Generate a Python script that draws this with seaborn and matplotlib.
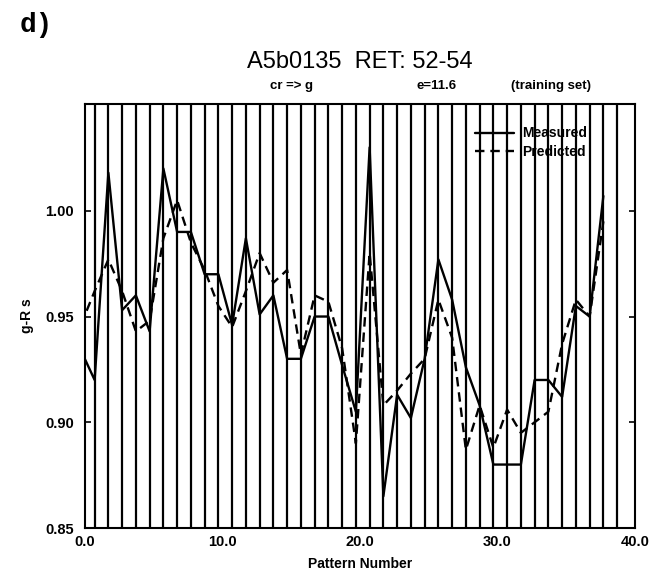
import numpy as np
import pandas as pd
import matplotlib
matplotlib.use("Agg")
import matplotlib.pyplot as plt
from matplotlib.lines import Line2D
import seaborn as sns

# Pattern positions along the x axis (each pattern sits on its own vertical rule)
pattern_x = [p - 0.3 for p in range(39)]
rule_x = [p - 0.3 for p in range(1, 40)]

measured = [0.934, 0.920, 1.018, 0.953, 0.960, 0.943, 1.020, 0.990, 0.990, 0.970,
            0.970, 0.946, 0.987, 0.951, 0.960, 0.930, 0.930, 0.950, 0.950, 0.927,
            0.905, 1.030, 0.865, 0.913, 0.902, 0.930, 0.977, 0.958, 0.926, 0.908,
            0.880, 0.880, 0.880, 0.920, 0.920, 0.912, 0.955, 0.950, 1.007]

predicted = [0.946, 0.962, 0.977, 0.962, 0.943, 0.948, 0.987, 1.005, 0.985, 0.972,
             0.955, 0.945, 0.962, 0.980, 0.966, 0.972, 0.932, 0.960, 0.957, 0.935,
             0.890, 0.980, 0.908, 0.915, 0.923, 0.930, 0.958, 0.940, 0.887, 0.908,
             0.888, 0.906, 0.895, 0.900, 0.905, 0.937, 0.958, 0.950, 0.995]

x_ticks = [0, 10, 20, 30, 40]
x_ticklabels = ["0.0", "10.0", "20.0", "30.0", "40.0"]
y_ticks = [0.85, 0.90, 0.95, 1.00]
y_ticklabels = ["0.85", "0.90", "0.95", "1.00"]

df = pd.DataFrame({
    "x": pattern_x * 2,
    "value": measured + predicted,
    "series": ["Measured"] * len(measured) + ["Predicted"] * len(predicted),
})

sns.set_style("white")
plt.rcParams["font.family"] = ["Liberation Sans", "DejaVu Sans"]
plt.rcParams.update({"text.color": "black", "axes.labelcolor": "black",
                     "xtick.color": "black", "ytick.color": "black"})

fig = plt.figure(figsize=(6.54, 5.72), dpi=100)
ax = fig.add_axes([85 / 654, 44 / 572, 550 / 654, 424 / 572])

ymin, ymax = 0.85, 1.0505
ax.vlines(rule_x, ymin, ymax, color="black", lw=1.6, zorder=1)

sns.lineplot(data=df, x="x", y="value", style="series",
             dashes={"Measured": "", "Predicted": (4, 2.5)},
             color="black", lw=1.7, ax=ax, legend=False, zorder=3)

ax.set_xlim(0, 40)
ax.set_ylim(ymin, ymax)
ax.set_xticks(x_ticks)
ax.set_xticklabels(x_ticklabels, fontsize=10.5, fontweight="bold")
ax.set_yticks(y_ticks)
ax.set_yticklabels(y_ticklabels, fontsize=10.5, fontweight="bold")
ax.tick_params(axis="x", length=0, pad=5)
ax.tick_params(axis="y", direction="in", length=4, width=1.2, pad=8,
               right=True, left=True)
for s in ax.spines.values():
    s.set_linewidth(1.5)
    s.set_color("black")

ax.set_xlabel("Pattern Number", fontsize=10, fontweight="bold", labelpad=6)
ax.set_ylabel("g-R s", fontsize=10, fontweight="bold", labelpad=8)

# Legend in the upper right corner of the plotting area
handles = [Line2D([], [], color="black", lw=1.7),
           Line2D([], [], color="black", lw=1.7, dashes=(4, 2.5))]
ax.legend(handles, ["Measured", "Predicted"], loc="upper left",
          bbox_to_anchor=(0.709, 0.947), frameon=False,
          prop={"weight": "bold", "size": 10}, handlelength=2.8,
          handletextpad=0.6, labelspacing=0.3, borderpad=0, borderaxespad=0)

fig.text(360 / 654, 1 - 62 / 572, "A5b0135  RET: 52-54", ha="center", va="center",
         fontsize=17)
fig.text(292 / 654, 1 - 86 / 572, "cr => g", ha="center", va="center",
         fontsize=9.5, fontweight="bold")
fig.text(437 / 654, 1 - 86 / 572, "e=11.6", ha="center", va="center",
         fontsize=9.5, fontweight="bold")
fig.text(551 / 654, 1 - 86 / 572, "(training set)", ha="center", va="center",
         fontsize=9.5, fontweight="bold")
fig.text(20 / 654, 1 - 25 / 572, "d)", ha="left", va="center",
         fontsize=20, fontweight="bold", family="Liberation Mono")

fig.savefig("out.png", dpi=100)
